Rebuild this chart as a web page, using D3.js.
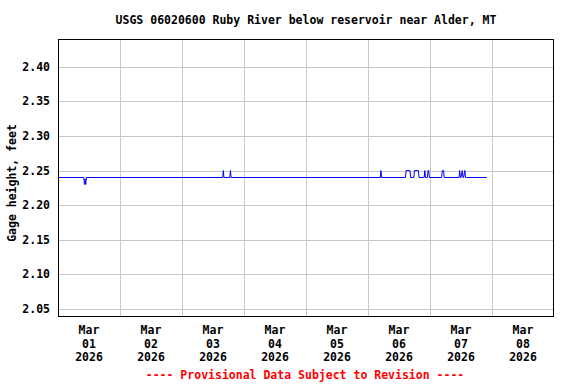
<!DOCTYPE html>
<html><head><meta charset="utf-8">
<script src="https://cdn.jsdelivr.net/npm/d3@7"></script>
<style>body{margin:0;background:#fff}</style>
</head><body>
<svg id="c" width="576" height="384"></svg>
<script>
// Data: hours after 2026-03-01 00:00 and gage height (feet)
const hours  = [0, 10.0, 10.25, 10.5, 10.75, 11.0, 11.25, 63.75, 64.0, 64.25, 66.5, 66.75, 67.0,
  124.75, 125.0, 125.25, 134.5, 134.75, 136.25, 136.5, 137.75, 138.0, 139.5, 139.75,
  141.75, 142.0, 142.25, 142.5, 143.0, 143.25, 143.5, 143.75,
  148.5, 148.75, 149.25, 149.5,
  155.25, 155.5, 155.75, 156.0, 156.5, 156.75, 157.0, 157.5, 157.75, 158.0, 166];
const values = [2.24, 2.24, 2.23, 2.238, 2.23, 2.24, 2.24, 2.24, 2.25, 2.24, 2.24, 2.25, 2.24,
  2.24, 2.25, 2.24, 2.24, 2.25, 2.25, 2.24, 2.24, 2.25, 2.25, 2.24,
  2.24, 2.25, 2.24, 2.24, 2.24, 2.25, 2.25, 2.24,
  2.24, 2.25, 2.25, 2.24,
  2.24, 2.25, 2.24, 2.24, 2.25, 2.24, 2.24, 2.25, 2.24, 2.24, 2.24];
const yTicks = [2.05, 2.10, 2.15, 2.20, 2.25, 2.30, 2.35, 2.40];
const dayLabels = ["01","02","03","04","05","06","07","08"];
const title = "USGS 06020600 Ruby River below reservoir near Alder, MT";
const yTitle = "Gage height, feet";
const footer = "---- Provisional Data Subject to Revision ----";

const svg = d3.select("#c");
const L = 58, R = 554, T = 39, B = 316;
const start = new Date(2026, 2, 1);
const hourMs = 3600000;
const x = d3.scaleTime().domain([start, new Date(2026, 2, 9)]).range([L, R]);
const y = d3.scaleLinear().domain([2.04, 2.44]).range([B, T]);
const font = "'DejaVu Sans Mono', monospace";

// grid
const days = d3.range(1, 8).map(i => new Date(2026, 2, 1 + i));
svg.append("g").selectAll("line").data(days).join("line")
  .attr("x1", d => Math.round(x(d)) + 0.5).attr("x2", d => Math.round(x(d)) + 0.5)
  .attr("y1", T).attr("y2", B).attr("stroke", "#c8c8c8").attr("stroke-width", 1);
svg.append("g").selectAll("line").data(yTicks).join("line")
  .attr("x1", L).attr("x2", R)
  .attr("y1", d => Math.round(y(d)) + 0.5).attr("y2", d => Math.round(y(d)) + 0.5)
  .attr("stroke", "#c8c8c8").attr("stroke-width", 1);

// data line
const pts = hours.map((h, i) => [new Date(start.getTime() + h * hourMs), values[i]]);
svg.append("path").datum(pts)
  .attr("fill", "none").attr("stroke", "#0000ff").attr("stroke-width", 1)
  .attr("d", d3.line().x(d => x(d[0])).y(d => y(d[1])));

// frame
svg.append("rect").attr("x", L + 0.5).attr("y", T + 0.5).attr("width", R - L - 1).attr("height", B - T)
  .attr("fill", "none").attr("stroke", "#000").attr("stroke-width", 1);

// y axis labels
svg.append("g").selectAll("text").data(yTicks).join("text")
  .attr("x", 50).attr("y", d => y(d) + 4).attr("text-anchor", "end")
  .attr("font-family", font).attr("font-weight", "bold").attr("font-size", 11.5)
  .text(d => d.toFixed(2));

// x axis labels
const xl = svg.append("g").selectAll("g").data(dayLabels).join("g")
  .attr("transform", (d, i) => `translate(${x(new Date(2026, 2, 1 + i, 12))},0)`);
[["Mar", 334], [null, 348], ["2026", 361]].forEach(([t, yy]) => {
  xl.append("text").attr("y", yy).attr("text-anchor", "middle")
    .attr("font-family", font).attr("font-weight", "bold").attr("font-size", 11.5)
    .text(d => t === null ? d : t);
});

// titles
svg.append("text").attr("x", 306).attr("y", 24).attr("text-anchor", "middle")
  .attr("font-family", font).attr("font-weight", "bold").attr("font-size", 11.5).text(title);
svg.append("text").attr("transform", "translate(16,183) rotate(-90)").attr("text-anchor", "middle")
  .attr("font-family", font).attr("font-weight", "bold").attr("font-size", 11.5).text(yTitle);
svg.append("text").attr("x", 305).attr("y", 379).attr("text-anchor", "middle")
  .attr("font-family", font).attr("font-weight", "bold").attr("font-size", 11.5)
  .attr("fill", "#ff0000").text(footer);
</script>
</body></html>
